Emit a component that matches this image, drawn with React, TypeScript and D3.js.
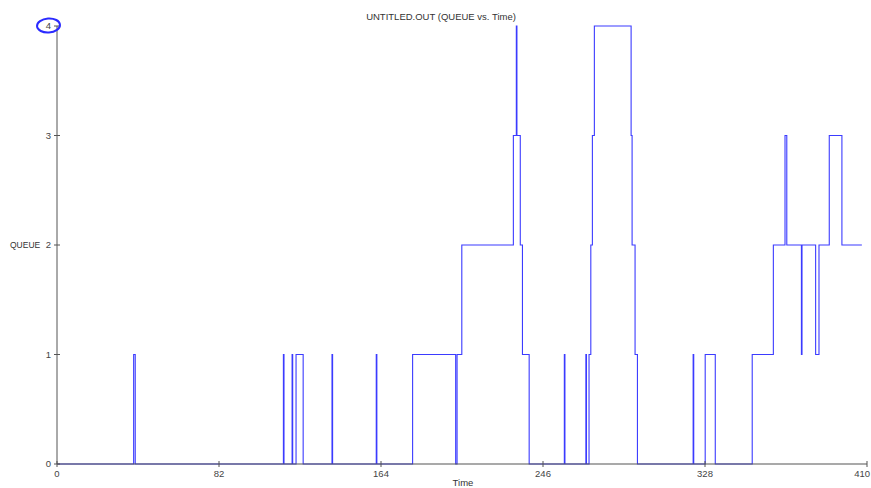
import * as d3 from "d3";

// step events: queue length changes to queueLevels[i] at eventTimes[i]
const eventTimes = [
  0, 38.8, 39.6, 114.6, 114.9, 119.0, 119.3, 121.0, 124.6, 139.2, 139.5,
  161.6, 161.9, 180.0, 201.8, 202.5, 204.9, 231.0, 232.5, 232.8, 234.5,
  235.6, 239.0, 256.8, 257.1, 267.7, 268.0, 269.3, 270.2, 271.0, 272.0,
  290.6, 291.1, 292.6, 293.8, 322.0, 322.3, 328.1, 333.2, 351.9, 362.6,
  368.5, 369.4, 376.8, 377.1, 384.0, 385.7, 390.9, 397.3, 407.4,
];
const queueLevels = [
  0, 1, 0, 1, 0, 1, 0, 1, 0, 1, 0,
  1, 0, 1, 0, 1, 2, 3, 4, 3, 2,
  1, 0, 1, 0, 1, 0, 1, 2, 3, 4,
  3, 2, 1, 0, 1, 0, 1, 0, 1, 2,
  3, 2, 1, 2, 1, 2, 3, 2, 2,
];
const xTicks = [0, 82, 164, 246, 328, 410];
const yTicks = [0, 1, 2, 3, 4];

const W = 871;
const H = 488;
const MARGIN = { top: 26, right: 4, bottom: 24, left: 57 };

export default function App() {
  const x = d3
    .scaleLinear()
    .domain([0, 410])
    .range([MARGIN.left, W - MARGIN.right]);
  const y = d3
    .scaleLinear()
    .domain([0, 4])
    .range([H - MARGIN.bottom, MARGIN.top]);

  const points = eventTimes.map((t, i) => [t, queueLevels[i]] as [number, number]);
  const line = d3
    .line<[number, number]>()
    .x((d) => x(d[0]))
    .y((d) => y(d[1]))
    .curve(d3.curveStepAfter);

  const font = "'Liberation Sans', Arial, sans-serif";
  const axisColor = "#555";

  return (
    <div style={{ position: "absolute", left: 0, top: 0 }}>
      <svg width={W} height={H} style={{ display: "block", background: "#fff" }}>
        <text
          x={441}
          y={20}
          textAnchor="middle"
          fontFamily={font}
          fontSize={9.5}
          fill="#333"
        >
          UNTITLED.OUT (QUEUE vs. Time)
        </text>

        <path d={line(points) ?? ""} fill="none" stroke="#3b3bff" strokeWidth={1.1} />

        {/* axes drawn over the series so the zero level stays grey */}
        <line x1={x(0)} x2={x(0)} y1={y(4)} y2={y(0)} stroke={axisColor} strokeWidth={1} />
        <line x1={x(0)} x2={x(410)} y1={y(0)} y2={y(0)} stroke={axisColor} strokeWidth={1.2} />

        {yTicks.map((v) => (
          <g key={"y" + v}>
            <line x1={x(0) - 3} x2={x(0) + 3} y1={y(v)} y2={y(v)} stroke={axisColor} />
            <text
              x={x(0) - 6}
              y={y(v)}
              dy="0.35em"
              textAnchor="end"
              fontFamily={font}
              fontSize={9.5}
              fill="#444"
            >
              {v}
            </text>
          </g>
        ))}
        {xTicks.map((v, i) => (
          <g key={"x" + v}>
            <line x1={x(v)} x2={x(v)} y1={y(0) - 3} y2={y(0) + 3} stroke={axisColor} />
            <text
              x={i === xTicks.length - 1 ? W - 1 : x(v)}
              y={y(0) + 13}
              textAnchor={i === xTicks.length - 1 ? "end" : "middle"}
              fontFamily={font}
              fontSize={9.5}
              fill="#444"
            >
              {v}
            </text>
          </g>
        ))}

        <text x={10} y={y(2)} dy="0.35em" fontFamily={font} fontSize={8.5} fill="#333">
          QUEUE
        </text>
        <text
          x={463}
          y={486}
          textAnchor="middle"
          fontFamily={font}
          fontSize={9.5}
          fill="#333"
        >
          Time
        </text>

        {/* hand-drawn annotation around the "4" label */}
        <ellipse
          cx={48.5}
          cy={25.5}
          rx={11.5}
          ry={7}
          fill="none"
          stroke="#2a2aff"
          strokeWidth={2}
          transform="rotate(-4 48.5 25.5)"
        />
      </svg>
    </div>
  );
}
